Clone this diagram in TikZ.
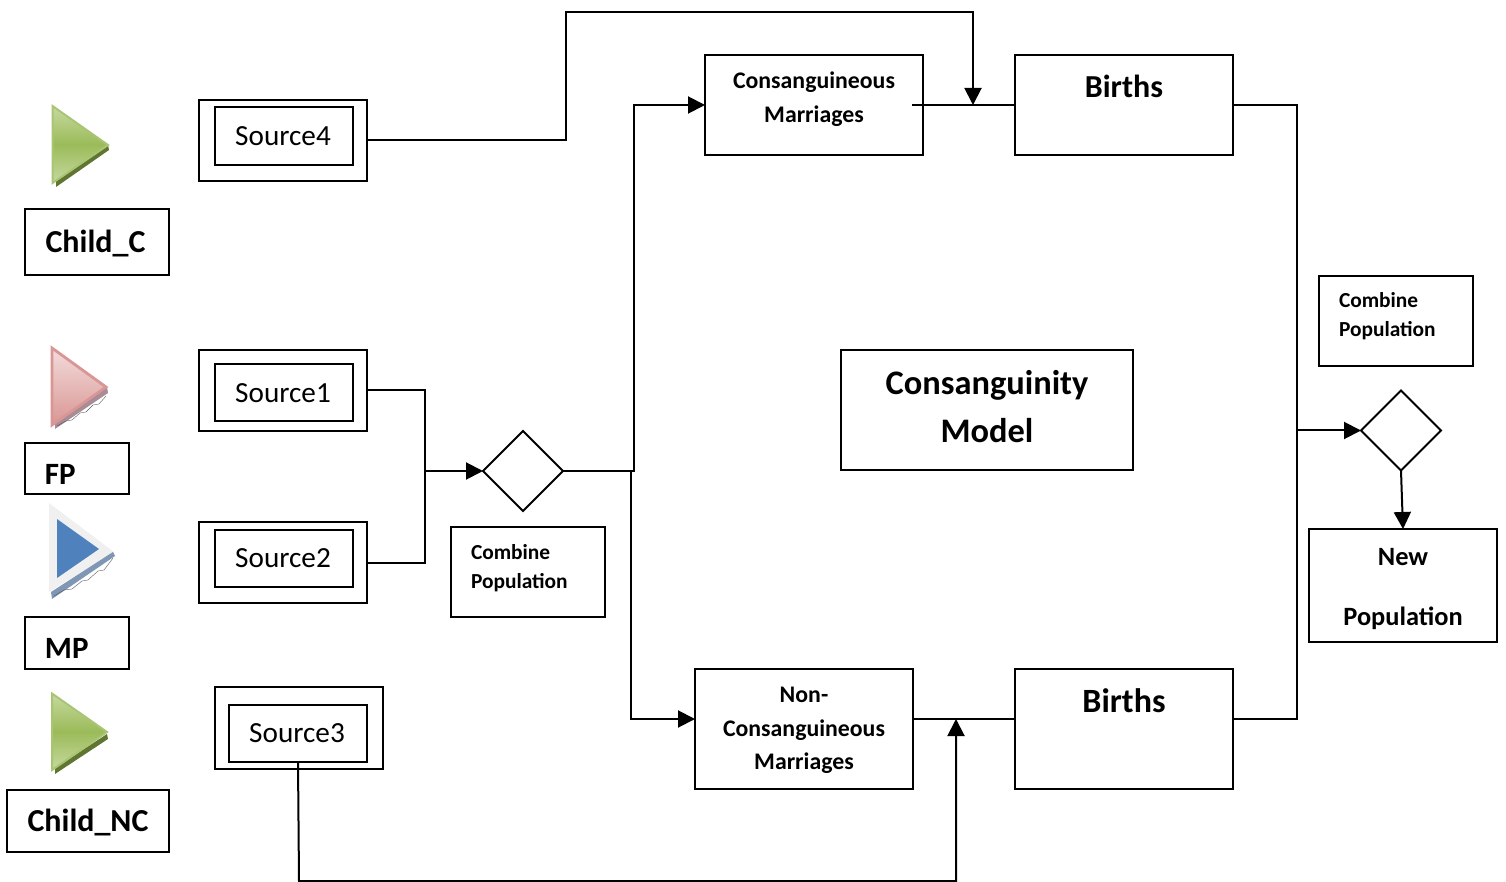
\documentclass[tikz,border=0pt]{standalone}
\usepackage{fontspec}
\setmainfont{Carlito}
\usetikzlibrary{shapes.geometric,arrows.meta}
\definecolor{gA}{HTML}{9BBB59}
\definecolor{gB}{HTML}{C6D9A0}
\definecolor{gC}{HTML}{A9C574}
\definecolor{gD}{HTML}{5F7530}
\definecolor{pA}{HTML}{F2DCDB}
\definecolor{pB}{HTML}{D99694}
\definecolor{bA}{HTML}{4F81BD}
\definecolor{hatchP}{HTML}{A88C96}
\definecolor{hatchB}{HTML}{8096B5}
\tikzset{
  x=0.5pt,y=-0.5pt,
  wh/.style 2 args={minimum width=#1*0.5pt,minimum height=#2*0.5pt},
  bx/.style={draw=black,line width=1pt,rectangle,fill=white,inner sep=0pt,outer sep=0pt},
  dm/.style={draw=black,line width=0.9pt,diamond,aspect=1,inner sep=0pt,outer sep=0pt,fill=white,minimum width=40pt,minimum height=40pt},
  lb/.style={inner sep=0pt,outer sep=0pt,align=center},
  big/.style={font=\fontsize{16}{16}\selectfont\bfseries},
  fpmp/.style={font=\fontsize{15.5}{15.5}\selectfont\bfseries},
  src/.style={font=\fontsize{14.6}{14.6}\selectfont},
  mid/.style={font=\fontsize{11.9}{11.9}\selectfont\bfseries},
  sml/.style={font=\fontsize{10.7}{10.7}\selectfont\bfseries},
  wire/.style={draw=black,line width=1pt},
  arr/.style={wire,-{Triangle[length=8.5pt,width=8.5pt]}},
  dk/.style={draw=black!65,line width=0.2pt}
}
\begin{document}
\begin{tikzpicture}
\useasboundingbox (0,0) rectangle (1506,882);
% green triangle Child_C
\fill[gD] (56,187) -- (109,150) -- (108,145) -- (56,180) -- cycle;
\shade[top color=gB,bottom color=gB,middle color=gA,draw=gC,line width=1pt,line join=miter] (52.5,106) -- (108,145) -- (52.5,183) -- cycle;
% pink triangle FP
\fill[hatchP] (55,429) -- (108,393) -- (107,387) -- (55,422) -- cycle;
\draw[dk] (57,426) -- (66,421) -- (72,420) -- (80,413) -- (86,412) -- (93,405) -- (99,404) -- (106,396);
\shade[top color=pA,bottom color=pB,draw=pB,line width=1.4pt,line join=miter] (52,348) -- (106,387) -- (52,425) -- cycle;
% blue triangle MP
\fill[black!6] (49,503) -- (114,552) -- (49,592) -- cycle;
\fill[hatchB] (52,599) -- (115,556) -- (113,552) -- (51,592) -- cycle;
\draw[dk] (54,596) -- (64,590) -- (72,589) -- (82,581) -- (88,580) -- (98,571) -- (104,570) -- (113,558);
\fill[bA] (57,519) -- (99,549) -- (57,578) -- cycle;
% green triangle Child_NC
\fill[gD] (55,774) -- (108,739) -- (107,734) -- (55,768) -- cycle;
\shade[top color=gB,bottom color=gB,middle color=gA,draw=gC,line width=1pt,line join=miter] (52,693.5) -- (107,732) -- (52,770) -- cycle;
% left label boxes
\node[bx,wh={144}{66}] (childc) at (97,242) {};
\node[lb,big] (childct) at (95.5,244) {Child\_C};
\node[bx,wh={104}{51}] (fp) at (77,468.5) {};
\node[lb,fpmp,anchor=west] (fpt) at (45,474) {FP};
\node[bx,wh={104}{52}] (mp) at (77,643) {};
\node[lb,fpmp,anchor=west] (mpt) at (45,648) {MP};
\node[bx,wh={162}{62}] (childnc) at (88,821) {};
\node[lb,big] (childnct) at (88,823) {Child\_NC};
% sources
\node[bx,wh={168}{81}] (s4o) at (283,140.5) {};
\node[bx,wh={138}{58},src] (s4) at (284,136) {\hspace*{-1pt}Source4};
\node[bx,wh={168}{81}] (s1o) at (283,390.5) {};
\node[bx,wh={138}{57},src] (s1) at (284,393) {\hspace*{-1pt}Source1};
\node[bx,wh={168}{81}] (s2o) at (283,562.5) {};
\node[bx,wh={138}{57},src] (s2) at (284,558) {\hspace*{-1pt}Source2};
\node[bx,wh={168}{82}] (s3o) at (299,728) {};
\node[bx,wh={138}{57},src] (s3) at (298,733) {\hspace*{-1pt}Source3};
% combine
\node[dm] (d1) at (523,471) {};
\node[bx,wh={154}{90}] (c1) at (528,572) {};
\node[lb,sml,anchor=west,align=left] (c1a) at (471,552) {Combine};
\node[lb,sml,anchor=west,align=left] (c1b) at (471,583) {Population};
\node[dm] (d2) at (1401,430.5) {};
\node[bx,wh={154}{90}] (c2) at (1396,321) {};
\node[lb,sml,anchor=west,align=left] (c2a) at (1339,300) {Combine};
\node[lb,sml,anchor=west,align=left] (c2b) at (1339,331) {Population};
% main boxes
\node[bx,wh={218}{100}] (cm) at (814,105) {};
\node[lb,mid] (cma) at (814,82) {Consanguineous};
\node[lb,mid] (cmb) at (814,116) {Marriages};
\node[bx,wh={218}{100}] (b1) at (1124,105) {};
\node[lb,big] (b1t) at (1124,86) {Births};
\node[bx,wh={218}{120}] (nc) at (804,729) {};
\node[lb,mid] (nca) at (804,695) {Non-};
\node[lb,mid] (ncb) at (804,730) {Consanguineous};
\node[lb,mid] (ncc) at (804,763) {Marriages};
\node[bx,wh={218}{120}] (b2) at (1124,729) {};
\node[lb,font=\fontsize{17}{17}\selectfont\bfseries] (b2t) at (1124,701) {Births};
\node[bx,wh={292}{120}] (model) at (987,410) {};
\node[lb,font=\fontsize{17.2}{17.2}\selectfont\bfseries] (ma) at (987,385) {Consanguinity};
\node[lb,font=\fontsize{17.2}{17.2}\selectfont\bfseries] (mb) at (987,431) {Model};
\node[bx,wh={188}{113}] (np) at (1403,585.5) {};
\node[lb,font=\fontsize{13.2}{13.2}\selectfont\bfseries] (npa) at (1403,557) {New};
\node[lb,font=\fontsize{13.2}{13.2}\selectfont\bfseries] (npb) at (1403,618) {Population};
% free-end coordinates
\coordinate (cmstart) at (912,105);
\coordinate (hit1) at (973,105);
\coordinate (top1) at (566,12);
\coordinate (top2) at (973,12);
\coordinate (j1) at (425,471);
\coordinate (busA) at (634,471);
\coordinate (busB) at (631,471);
\coordinate (ncin) at (695,719);
\coordinate (cmin) at (705,105);
\coordinate (ncl) at (913,719);
\coordinate (b2in) at (1015,719);
\coordinate (hit2) at (956,719);
\coordinate (low1) at (299,881);
\coordinate (low2) at (956,881);
\coordinate (rA) at (1297,105);
\coordinate (rB) at (1297,719);
\coordinate (rC) at (1297,430.5);
\coordinate (b2out) at (1233,719);
% connectors
\draw[arr] (s4o.east) -- (top1 |- s4o.east) -- (top1) -- (top2) -- (hit1);
\draw[wire] (cmstart) -- (b1.west);
\draw[wire] (s1o.east) -- (j1 |- s1o.east) -- (j1 |- s2o.east) -- (s2o.east);
\draw[arr] (j1) -- (d1.west);
\draw[arr] (d1.east) -- (busA) -- (busA |- cmin) -- (cmin);
\draw[arr] (busB) -- (busB |- ncin) -- (ncin);
\draw[wire] (ncl) -- (b2in);
\draw[arr] (s3.south) -- (low1) -- (low2) -- (hit2);
\draw[wire] (b1.east) -- (rA) -- (rB) -- (b2out);
\draw[arr] (rC) -- (d2.west);
\draw[arr] (d2.south) -- (np.north);
\end{tikzpicture}
\end{document}
